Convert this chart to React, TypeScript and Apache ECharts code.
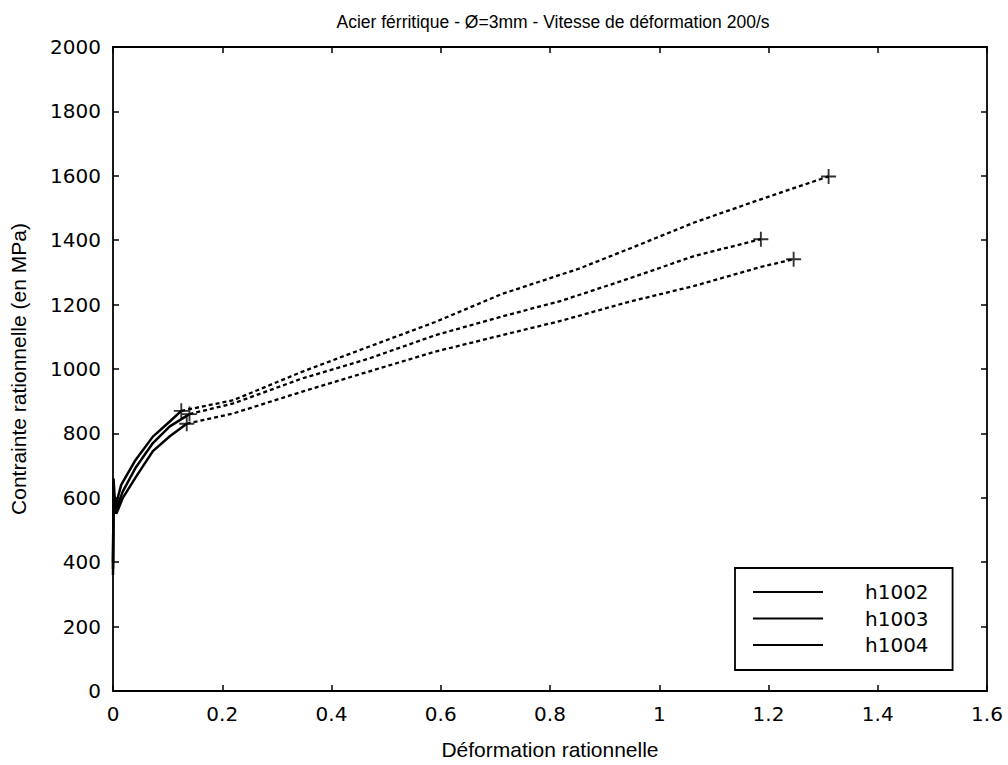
import React, { useEffect, useRef } from "react";
import * as echarts from "echarts";

const TITLE = "Acier férritique - Ø=3mm - Vitesse de déformation 200/s";
const X_NAME = "Déformation rationnelle";
const Y_NAME = "Contrainte rationnelle (en MPa)";
const SERIES_NAMES = ["h1002", "h1003", "h1004"];

// Solid (measured) part of each curve: [strain, stress MPa]
const h1002Solid: number[][] = [
  [0, 380], [0.001, 660], [0.004, 570], [0.015, 640], [0.04, 714],
  [0.073, 790], [0.104, 837], [0.125, 870],
];
const h1003Solid: number[][] = [
  [0, 400], [0.001, 620], [0.005, 560], [0.018, 620], [0.042, 695],
  [0.073, 770], [0.104, 822], [0.14, 860],
];
const h1004Solid: number[][] = [
  [0, 360], [0.001, 600], [0.006, 550], [0.018, 600], [0.042, 665],
  [0.073, 745], [0.104, 791], [0.135, 830],
];

// Dashed (extrapolated) part of each curve
const h1002Dash: number[][] = [
  [0.125, 870], [0.22, 903], [0.347, 992], [0.468, 1069], [0.59, 1146],
  [0.712, 1233], [0.852, 1311], [0.943, 1372], [1.064, 1455], [1.186, 1527], [1.31, 1598],
];
const h1003Dash: number[][] = [
  [0.14, 860], [0.22, 893], [0.347, 971], [0.468, 1032], [0.59, 1105],
  [0.712, 1163], [0.821, 1212], [0.943, 1280], [1.064, 1351], [1.186, 1403],
];
const h1004Dash: number[][] = [
  [0.135, 830], [0.22, 862], [0.347, 930], [0.468, 992], [0.59, 1054],
  [0.712, 1105], [0.821, 1150], [0.943, 1208], [1.064, 1258], [1.186, 1317], [1.246, 1341],
];

const SOLIDS = [h1002Solid, h1003Solid, h1004Solid];
const DASHES = [h1002Dash, h1003Dash, h1004Dash];

const X_MIN = 0, X_MAX = 1.6, X_STEP = 0.2;
const Y_MIN = 0, Y_MAX = 2000, Y_STEP = 200;

const PLUS = "path://M-1,-8 L1,-8 L1,-1 L8,-1 L8,1 L1,1 L1,8 L-1,8 L-1,1 L-8,1 L-8,-1 L-1,-1 Z";
const FONT = "'Liberation Sans', Arial, sans-serif";
const NUM_FONT = "'DejaVu Sans', sans-serif";

export default function App() {
  const ref = useRef<HTMLDivElement>(null);
  useEffect(() => {
    if (!ref.current) return;
    const chart = echarts.init(ref.current, undefined, { renderer: "svg" });
    const markers: number[][] = [];
    DASHES.forEach((d) => { markers.push(d[0]); markers.push(d[d.length - 1]); });

    const series: any[] = [];
    SOLIDS.forEach((d, i) => {
      series.push({
        name: SERIES_NAMES[i], type: "line", data: d, showSymbol: false, symbol: "none",
        lineStyle: { color: "#000", width: 2.5 }, itemStyle: { color: "#000" }, z: 3,
      });
    });
    DASHES.forEach((d, i) => {
      series.push({
        name: SERIES_NAMES[i] + " ext", type: "line", data: d, showSymbol: false, symbol: "none",
        lineStyle: { color: "#000", width: 2.3, type: [4, 3] }, z: 3,
      });
    });
    series.push({
      name: "marks", type: "scatter", data: markers, symbol: PLUS, symbolSize: 15,
      itemStyle: { color: "#000" }, z: 4,
    });

    const axisCommon = {
      axisLine: { show: true, onZero: false, lineStyle: { color: "#000", width: 1.8 } },
      axisTick: { show: true, inside: true, length: 6, lineStyle: { color: "#000", width: 1.5 } },
      splitLine: { show: false },
    };

    chart.setOption({
      animation: false,
      backgroundColor: "#fff",
      title: {
        text: TITLE, left: 548, top: 8, textAlign: "center",
        textStyle: { fontFamily: FONT, fontSize: 17.5, fontWeight: "normal", color: "#000" },
      },
      grid: { left: 110, right: 21, top: 47, bottom: 71, containLabel: false },
      legend: {
        data: SERIES_NAMES,
        orient: "vertical",
        left: 735, top: 568,
        icon: "rect", itemWidth: 70, itemHeight: 2, itemGap: 6.5,
        padding: [14, 24, 15, 18],
        borderColor: "#000", borderWidth: 1.8, backgroundColor: "#fff",
        itemStyle: { color: "#000" },
        textStyle: { fontFamily: NUM_FONT, fontSize: 20, color: "#000", padding: [0, 0, 0, 37], lineHeight: 20 },
        selectedMode: false,
      },
      xAxis: [
        {
          type: "value", min: X_MIN, max: X_MAX, interval: X_STEP, position: "bottom",
          name: X_NAME, nameLocation: "middle", nameGap: 48,
          nameTextStyle: { fontFamily: FONT, fontSize: 21, color: "#000" },
          axisLabel: {
            fontFamily: NUM_FONT, fontSize: 20, color: "#000", margin: 13,
            formatter: (v: number) => String(Math.round(v * 10) / 10),
          },
          ...axisCommon,
        },
        {
          type: "value", min: X_MIN, max: X_MAX, interval: X_STEP, position: "top",
          axisLabel: { show: false }, ...axisCommon,
        },
      ],
      yAxis: [
        {
          type: "value", min: Y_MIN, max: Y_MAX, interval: Y_STEP, position: "left",
          name: Y_NAME, nameLocation: "middle", nameGap: 84,
          nameTextStyle: { fontFamily: FONT, fontSize: 21, color: "#000" },
          axisLabel: {
            fontFamily: NUM_FONT, fontSize: 20, color: "#000", margin: 12,
            formatter: (v: number) => String(v),
          },
          ...axisCommon,
        },
        {
          type: "value", min: Y_MIN, max: Y_MAX, interval: Y_STEP, position: "right",
          axisLabel: { show: false }, ...axisCommon,
        },
      ],
      series,
    });
    return () => chart.dispose();
  }, []);
  return (
    <div
      ref={ref}
      style={{ position: "fixed", left: 0, top: 0, width: 1008, height: 765, background: "#fff" }}
    />
  );
}
